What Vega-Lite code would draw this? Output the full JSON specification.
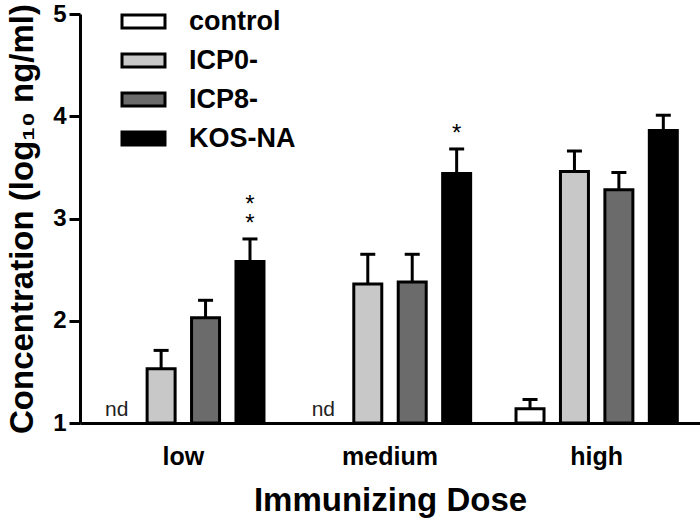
{
  "$schema": "https://vega.github.io/schema/vega-lite/v6.json",
  "width": 620,
  "height": 409,
  "autosize": {"type": "none"},
  "padding": {"left": 80, "top": 14, "right": 0, "bottom": 98},
  "background": "white",
  "config": {
    "view": {"stroke": null},
    "font": "Liberation Sans"
  },
  "data": {
    "values": [
      {"dose": "low", "group": "control", "value": null, "upper": null, "note": "nd", "stars": 0},
      {"dose": "low", "group": "ICP0-", "value": 1.53, "upper": 1.71, "note": "", "stars": 0},
      {"dose": "low", "group": "ICP8-", "value": 2.03, "upper": 2.2, "note": "", "stars": 0},
      {"dose": "low", "group": "KOS-NA", "value": 2.58, "upper": 2.8, "note": "", "stars": 2},
      {"dose": "medium", "group": "control", "value": null, "upper": null, "note": "nd", "stars": 0},
      {"dose": "medium", "group": "ICP0-", "value": 2.36, "upper": 2.65, "note": "", "stars": 0},
      {"dose": "medium", "group": "ICP8-", "value": 2.38, "upper": 2.65, "note": "", "stars": 0},
      {"dose": "medium", "group": "KOS-NA", "value": 3.44, "upper": 3.68, "note": "", "stars": 1},
      {"dose": "high", "group": "control", "value": 1.14, "upper": 1.23, "note": "", "stars": 0},
      {"dose": "high", "group": "ICP0-", "value": 3.46, "upper": 3.66, "note": "", "stars": 0},
      {"dose": "high", "group": "ICP8-", "value": 3.28, "upper": 3.45, "note": "", "stars": 0},
      {"dose": "high", "group": "KOS-NA", "value": 3.86, "upper": 4.01, "note": "", "stars": 0}
    ]
  },
  "encoding": {
    "x": {
      "field": "dose",
      "type": "nominal",
      "sort": ["low", "medium", "high"],
      "scale": {"paddingInner": 0.14, "paddingOuter": 0.07},
      "axis": {
        "title": "Immunizing Dose",
        "labelAngle": 0,
        "labelFont": "Liberation Sans",
        "labelFontWeight": "bold",
        "labelFontSize": 25,
        "labelColor": "black",
        "labelPadding": 21,
        "ticks": false,
        "domainColor": "black",
        "domainWidth": 3,
        "titleFont": "Liberation Sans",
        "titleFontWeight": "bold",
        "titleFontSize": 33,
        "titleColor": "black",
        "titlePadding": 15
      }
    },
    "xOffset": {
      "field": "group",
      "type": "nominal",
      "scale": {"domain": ["control", "ICP0-", "ICP8-", "KOS-NA"], "paddingInner": 0.37, "paddingOuter": 0.185}
    }
  },
  "layer": [
    {
      "transform": [{"filter": "datum.value != null"}],
      "mark": {"type": "bar", "stroke": "black", "strokeWidth": 3, "opacity": 1},
      "encoding": {
        "y": {
          "field": "value",
          "type": "quantitative",
          "scale": {"domain": [1, 5], "zero": false, "nice": false},
          "axis": {
            "title": "Concentration (log₁₀ ng/ml)",
            "values": [1, 2, 3, 4, 5],
            "format": "d",
            "grid": false,
            "labelFont": "Liberation Sans",
            "labelFontWeight": "bold",
            "labelFontSize": 24,
            "labelColor": "black",
            "labelPadding": 3,
            "tickSize": 11,
            "tickWidth": 3,
            "tickColor": "black",
            "domainColor": "black",
            "domainWidth": 3,
            "titleFont": "Liberation Sans",
            "titleFontWeight": "bold",
            "titleFontSize": 33,
            "titleColor": "black",
            "titlePadding": 13
          }
        },
        "y2": {"datum": 1},
        "fill": {
          "field": "group",
          "type": "nominal",
          "scale": {"domain": ["control", "ICP0-", "ICP8-", "KOS-NA"], "range": ["#ffffff", "#c8c8c8", "#6b6b6b", "#000000"]},
          "legend": {
            "title": null,
            "orient": "none",
            "legendX": 50,
            "legendY": -6,
            "padding": 0,
            "symbolType": "M-2,-0.6H2V0.6H-2Z",
            "symbolSize": 462,
            "symbolStrokeColor": "black",
            "symbolStrokeWidth": 3,
            "symbolOpacity": 1,
            "labelFont": "Liberation Sans",
            "labelFontWeight": "bold",
            "labelFontSize": 27,
            "labelColor": "black",
            "labelOffset": 32,
            "rowPadding": 11
          }
        }
      }
    },
    {
      "transform": [{"filter": "datum.value != null"}],
      "mark": {"type": "rule", "stroke": "black", "strokeWidth": 3},
      "encoding": {
        "y": {"field": "value", "type": "quantitative"},
        "y2": {"field": "upper"}
      }
    },
    {
      "transform": [{"filter": "datum.value != null"}],
      "mark": {"type": "tick", "color": "black", "thickness": 3, "size": 15, "opacity": 1},
      "encoding": {
        "y": {"field": "upper", "type": "quantitative"}
      }
    },
    {
      "transform": [{"filter": "datum.note != ''"}],
      "mark": {"type": "text", "font": "Liberation Sans", "fontSize": 21, "color": "#222222", "baseline": "bottom", "dy": -3},
      "encoding": {
        "y": {"datum": 1},
        "text": {"field": "note"}
      }
    },
    {
      "transform": [{"filter": "datum.stars >= 1"}],
      "mark": {"type": "text", "font": "Liberation Sans", "fontSize": 24, "color": "black", "baseline": "bottom", "dy": -3, "text": "*"},
      "encoding": {
        "y": {"field": "upper", "type": "quantitative"}
      }
    },
    {
      "transform": [{"filter": "datum.stars >= 2"}],
      "mark": {"type": "text", "font": "Liberation Sans", "fontSize": 24, "color": "black", "baseline": "bottom", "dy": -22, "text": "*"},
      "encoding": {
        "y": {"field": "upper", "type": "quantitative"}
      }
    }
  ]
}
